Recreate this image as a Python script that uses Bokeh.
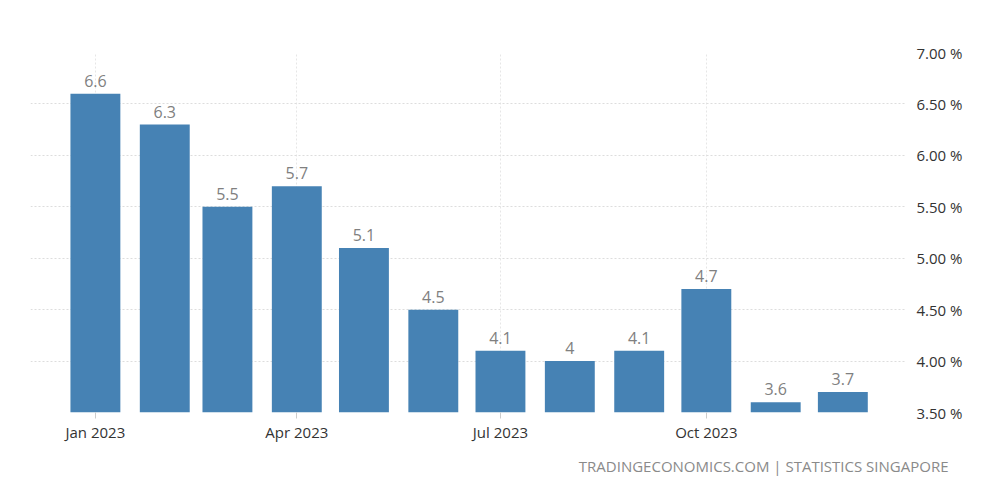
import pandas as pd
from bokeh.plotting import figure
from bokeh.models import ColumnDataSource, FixedTicker, DatetimeTickFormatter, PrintfTickFormatter, Range1d, Title
from bokeh.core.properties import value
from bokeh.embed import file_html
from bokeh.resources import INLINE

months = ["2023-01-01", "2023-02-01", "2023-03-01", "2023-04-01", "2023-05-01", "2023-06-01",
          "2023-07-01", "2023-08-01", "2023-09-01", "2023-10-01", "2023-11-01", "2023-12-01"]
rates = [6.6, 6.3, 5.5, 5.7, 5.1, 4.5, 4.1, 4.0, 4.1, 4.7, 3.6, 3.7]
rate_labels = ["6.6", "6.3", "5.5", "5.7", "5.1", "4.5", "4.1", "4", "4.1", "4.7", "3.6", "3.7"]
x_tick_dates = ["2023-01-01", "2023-04-01", "2023-07-01", "2023-10-01"]
y_ticks = [3.5, 4.0, 4.5, 5.0, 5.5, 6.0, 6.5, 7.0]
footer = "TRADINGECONOMICS.COM | STATISTICS SINGAPORE"

FONT = "Open Sans"
dates = pd.to_datetime(months)
src = ColumnDataSource(dict(x=dates, top=rates, lab=rate_labels))

p = figure(width=1000, height=501, x_axis_type="datetime", y_axis_location="right",
           output_backend="svg", toolbar_location=None,
           x_range=Range1d(pd.Timestamp("2022-12-03"), pd.Timestamp("2023-12-29")),
           y_range=Range1d(3.5, 7.0),
           min_border_left=30, min_border_top=52, min_border_right=95, min_border_bottom=89)
p.outline_line_color = None
p.background_fill_color = "white"

day_ms = 86400000
p.vbar(x="x", top="top", bottom=3.5, width=22.3 * day_ms, source=src,
       fill_color="#4682B4", line_color=None)
p.text(x="x", y="top", text="lab", source=src, text_align="center", text_baseline="bottom",
       y_offset=-7, text_color="#808080", text_font=value(FONT), text_font_size="16px")

p.xaxis.ticker = FixedTicker(ticks=[pd.Timestamp(d).value // 10**6 for d in x_tick_dates])
p.xaxis.formatter = DatetimeTickFormatter(months="%b %Y", days="%b %Y", hours="%b %Y")
p.xaxis.axis_line_color = None
p.xaxis.major_tick_line_color = "#cccccc"
p.xaxis.major_tick_out = 6
p.xaxis.major_tick_in = 0
p.xaxis.minor_tick_line_color = None
p.xaxis.major_label_text_font = FONT
p.xaxis.major_label_text_font_size = "15px"
p.xaxis.major_label_text_color = "#333333"
p.xaxis.major_label_standoff = 3

p.yaxis.ticker = FixedTicker(ticks=y_ticks)
p.yaxis.formatter = PrintfTickFormatter(format="%.2f %%")
p.yaxis.axis_line_color = None
p.yaxis.major_tick_line_color = None
p.yaxis.minor_tick_line_color = None
p.yaxis.major_label_text_font = FONT
p.yaxis.major_label_text_font_size = "15px"
p.yaxis.major_label_text_color = "#333333"
p.yaxis.major_label_standoff = 5

p.xgrid.ticker = p.xaxis.ticker
p.xgrid.grid_line_color = "#e6e6e6"
p.xgrid.grid_line_dash = "2 2"
p.ygrid.grid_line_color = "#dddddd"
p.ygrid.grid_line_dash = "2 2"

t = Title(text=footer, align="right", text_color="#8a8a8a", text_font=FONT,
          text_font_size="15px", text_font_style="normal", offset=-43, standoff=19)
p.add_layout(t, "below")

open("out.html", "w").write(file_html(p, INLINE))
